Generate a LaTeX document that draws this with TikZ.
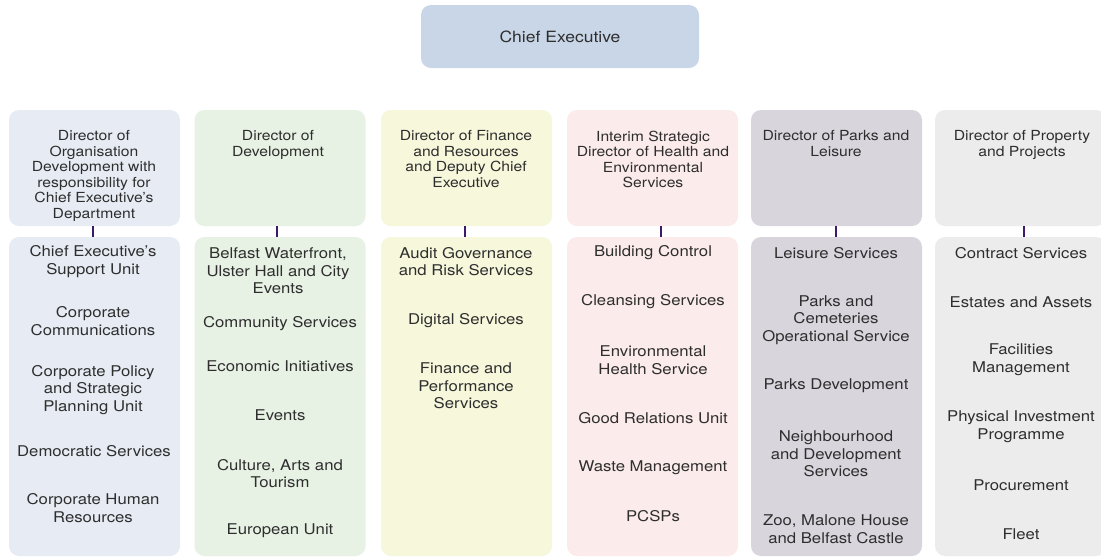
\documentclass[tikz,border=0pt]{standalone}
\usepackage{fontspec}
\setmainfont{TeX Gyre Heros}[FakeStretch=1.13]
\definecolor{txt}{HTML}{2E2E2E}
\definecolor{ceo}{HTML}{C9D6E7}
\definecolor{cA}{HTML}{E7ECF4}
\definecolor{cB}{HTML}{E7F2E4}
\definecolor{cC}{HTML}{F7F7DC}
\definecolor{cD}{HTML}{FBEBEB}
\definecolor{cE}{HTML}{D9D5DC}
\definecolor{cF}{HTML}{ECECEC}
\definecolor{tickc}{HTML}{3B1A6B}
\tikzset{
  box/.style={rounded corners=10pt, draw=none, inner sep=0pt, minimum width=171pt},
  hdrbox/.style={box, minimum height=116pt},
  bodybox/.style={box, minimum height=319pt},
  hdrtxt/.style={anchor=north, align=center, inner sep=0pt, text=txt, font=\fontsize{13.9}{15.5}\selectfont},
  item/.style={align=center, inner sep=0pt, text=txt, font=\fontsize{14.8}{17.6}\selectfont},
  tickline/.style={draw=tickc, line width=2.6pt}
}
\begin{document}
\begin{tikzpicture}[x=1pt,y=-1pt]
\useasboundingbox (0,0) rectangle (1101,558);
\fill[white] (0,0) rectangle (1101,558);
% Chief executive
\node[box, fill=ceo, minimum width=278pt, minimum height=63pt, text=txt, font=\fontsize{15.5}{18}\selectfont] (ceo) at (560,36.5) {Chief Executive};
% headers
\node[hdrbox, fill=cA] (h1) at (94.5,168) {};
\node[hdrbox, fill=cB] (h2) at (280,168) {};
\node[hdrbox, fill=cC] (h3) at (466.5,168) {};
\node[hdrbox, fill=cD] (h4) at (652.5,168) {};
\node[hdrbox, fill=cE] (h5) at (836.5,168) {};
\node[hdrbox, fill=cF] (h6) at (1020.5,168) {};
% bodies
\node[bodybox, fill=cA] (b1) at (94.5,396.5) {};
\node[bodybox, fill=cB] (b2) at (280,396.5) {};
\node[bodybox, fill=cC] (b3) at (466.5,396.5) {};
\node[bodybox, fill=cD] (b4) at (652.5,396.5) {};
\node[bodybox, fill=cE] (b5) at (836.5,396.5) {};
\node[bodybox, fill=cF] (b6) at (1020.5,396.5) {};
% header texts
\node[hdrtxt] (t1) at (94,130.5) {Director of\\Organisation\\Development with\\responsibility for\\Chief Executive’s\\Department};
\node[hdrtxt] (t2) at (278,130.5) {Director of\\Development};
\node[hdrtxt] (t3) at (466,130.5) {Director of Finance\\and Resources\\and Deputy Chief\\Executive};
\node[hdrtxt] (t4) at (653,130.5) {Interim Strategic\\Director of Health and\\Environmental\\Services};
\node[hdrtxt] (t5) at (836,130.5) {Director of Parks and\\Leisure};
\node[hdrtxt] (t6) at (1022,130.5) {Director of Property\\and Projects};
% ticks
\foreach \h/\b/\x in {h1/b1/93, h2/b2/277, h3/b3/465, h4/b4/661, h5/b5/836, h6/b6/1024}{
  \draw[tickline] (\h.south -| \x,0) -- (\b.north -| \x,0);
}
% column 1 items
\node[item] (a1) at (93,261.5) {Chief Executive’s\\Support Unit};
\node[item] (a2) at (93,321) {Corporate\\Communications};
\node[item] (a3) at (93,390) {Corporate Policy\\and Strategic\\Planning Unit};
\node[item] (a4) at (94,451) {Democratic Services};
\node[item] (a5) at (93,508) {Corporate Human\\Resources};
% column 2
\node[item] (c1) at (278,271) {Belfast Waterfront,\\Ulster Hall and City\\Events};
\node[item] (c2) at (280,324) {Community Services};
\node[item] (c3) at (280,366) {Economic Initiatives};
\node[item] (c4) at (280,415) {Events};
\node[item] (c5) at (280,473.5) {Culture, Arts and\\Tourism};
\node[item] (c6) at (280,531) {European Unit};
% column 3
\node[item] (d1) at (466,261.5) {Audit Governance\\and Risk Services};
\node[item] (d2) at (466,321) {Digital Services};
\node[item] (d3) at (466,386) {Finance and\\Performance\\Services};
% column 4
\node[item] (e1) at (653,253) {Building Control};
\node[item] (e2) at (653,302) {Cleansing Services};
\node[item] (e3) at (653,360) {Environmental\\Health Service};
\node[item] (e4) at (653,418) {Good Relations Unit};
\node[item] (e5) at (653,468) {Waste Management};
\node[item] (e6) at (653,516) {PCSPs};
% column 5
\node[item] (f1) at (836,253) {Leisure Services};
\node[item] (f2) at (836,320) {Parks and\\Cemeteries\\Operational Service};
\node[item] (f3) at (836,386) {Parks Development};
\node[item] (f4) at (836,454) {Neighbourhood\\and Development\\Services};
\node[item] (f5) at (836,529) {Zoo, Malone House\\and Belfast Castle};
% column 6
\node[item] (g1) at (1021,253) {Contract Services};
\node[item] (g2) at (1021,302) {Estates and Assets};
\node[item] (g3) at (1021,360) {Facilities\\Management};
\node[item] (g4) at (1021,427) {Physical Investment\\Programme};
\node[item] (g5) at (1021,485) {Procurement};
\node[item] (g6) at (1021,534) {Fleet};
\end{tikzpicture}
\end{document}
